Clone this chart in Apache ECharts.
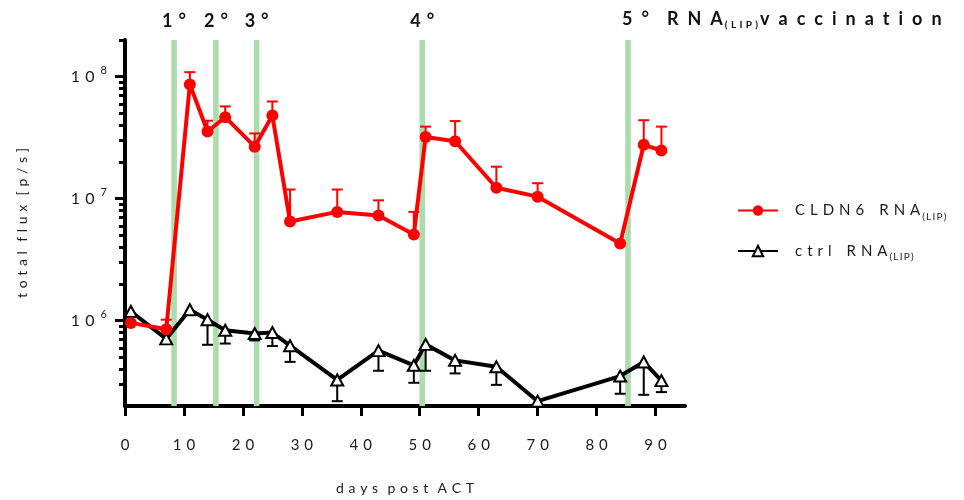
<!DOCTYPE html>
<html>
<head>
<meta charset="utf-8">
<script src="https://cdn.jsdelivr.net/npm/echarts@6/dist/echarts.min.js"></script>
<style>
  html, body { margin: 0; padding: 0; background: #fff; }
  #chart { width: 964px; height: 500px; }
</style>
</head>
<body>
<div id="chart"></div>
<script>
// days post ACT
const days = [1, 7, 11, 14, 17, 22, 25, 28, 36, 43, 49, 51, 56, 63, 70, 84, 88, 91];

// CLDN6 RNA(LIP): mean and upper end of error bar
const cldn6Mean = [9.6e5, 8.5e5, 8.65e7, 3.56e7, 4.66e7, 2.67e7, 4.81e7, 6.5e6, 7.8e6, 7.3e6, 5.1e6, 3.2e7, 2.96e7, 1.23e7, 1.04e7, 4.3e6, 2.77e7, 2.48e7];
const cldn6Upper = [null, 1.02e6, 1.09e8, 4.36e7, 5.71e7, 3.43e7, 6.27e7, 1.19e7, 1.19e7, 9.7e6, 7.8e6, 3.9e7, 4.33e7, 1.83e7, 1.34e7, null, 4.4e7, 3.9e7];

// ctrl RNA(LIP): mean and lower end of error bar
const ctrlMean = [1.19e6, 7.1e5, 1.23e6, 1.02e6, 8.35e5, 7.85e5, 8.0e5, 6.24e5, 3.27e5, 5.69e5, 4.31e5, 6.4e5, 4.73e5, 4.19e5, 2.19e5, 3.52e5, 4.59e5, 3.23e5];
const ctrlLower = [null, null, null, 6.35e5, 6.5e5, 6.9e5, 6.2e5, 4.6e5, 2.19e5, 3.89e5, 3.1e5, 3.89e5, 3.7e5, 2.98e5, null, 2.52e5, 2.47e5, 2.6e5];

// vaccination days (green bands)
const bandStart = [7.85, 14.95, 21.85, 49.95, 84.85];
const bandEnd = [8.8, 15.9, 22.8, 50.9, 85.8];
const bandLabels = ['1°', '2°', '3°', '4°', '5°'];

// axis ticks
const xTicks = [0, 10, 20, 30, 40, 50, 60, 70, 80, 90];
const yMajorTicks = [1e6, 1e7, 1e8];
const yMinorTicks = [3e5, 4e5, 5e5, 6e5, 7e5, 8e5, 9e5,
  2e6, 3e6, 4e6, 5e6, 6e6, 7e6, 8e6, 9e6,
  2e7, 3e7, 4e7, 5e7, 6e7, 7e7, 8e7, 9e7, 2e8];

const FONT = 'Lato';
const TEXT = '#1a1a1a';
const GAP = '\u2004';
const WIDE = '\u2002';
const THIN = '\u2009';

// 字母间距
const spaced = (s, g = GAP) => s.split('').join(g);

const chart = echarts.init(document.getElementById('chart'));

// 误差线
const errorBars = (name, means, bounds, color) => ({
  type: 'custom',
  name: name,
  z: 1,
  silent: true,
  encode: { x: 0, y: [1, 2] },
  data: days.map((d, i) => [d, means[i], bounds[i]]).filter(r => r[2] != null),
  renderItem: (params, api) => {
    const p0 = api.coord([api.value(0), api.value(1)]);
    const p1 = api.coord([api.value(0), api.value(2)]);
    const half = 5.5;
    return {
      type: 'group',
      children: [
        { type: 'line', shape: { x1: p0[0], y1: p0[1], x2: p1[0], y2: p1[1] }, style: { stroke: color, lineWidth: 2 } },
        { type: 'line', shape: { x1: p1[0] - half, y1: p1[1], x2: p1[0] + half, y2: p1[1] }, style: { stroke: color, lineWidth: 2 } }
      ]
    };
  }
});

const bandLabel = i => i === 4
  ? '{t|' + spaced(bandLabels[i], WIDE) + WIDE + WIDE + spaced('RNA', WIDE) + '}{s|' + spaced('(LIP)') + '}{t|' + spaced('vaccination', WIDE) + '}'
  : '{t|' + spaced(bandLabels[i]) + '}';

const option = {
  animation: false,
  backgroundColor: '#fff',
  textStyle: { fontFamily: FONT },
  grid: { left: 125, top: 40, width: 560, height: 373 },
  legend: {
    orient: 'vertical',
    left: 732,
    top: 198,
    itemWidth: 40,
    itemHeight: 13,
    itemGap: 22,
    data: ['CLDN6', 'ctrl'],
    formatter: name => '{g|}{m|' + spaced(name) + WIDE + WIDE + spaced('RNA') + THIN + '}{s|' + spaced('(LIP)', THIN) + '}',
    textStyle: {
      fontFamily: FONT,
      color: TEXT,
      rich: {
        g: { width: 12 },
        m: { fontSize: 15, fontFamily: FONT, color: TEXT },
        s: { fontSize: 10, fontFamily: FONT, color: TEXT, padding: [12, 0, 0, 0] }
      }
    }
  },
  xAxis: {
    type: 'value',
    min: 0,
    max: 95,
    name: spaced('days') + GAP + GAP + spaced('post') + GAP + GAP + spaced('ACT'),
    nameLocation: 'middle',
    nameGap: 75,
    nameTextStyle: { fontSize: 14, color: TEXT, fontFamily: FONT },
    axisLine: { lineStyle: { color: '#000', width: 4 } },
    axisTick: { customValues: xTicks, length: 10, lineStyle: { color: '#000', width: 3 } },
    axisLabel: {
      customValues: xTicks,
      margin: 32,
      fontSize: 15,
      color: TEXT,
      fontFamily: FONT,
      formatter: v => spaced(String(v))
    },
    splitLine: { show: false }
  },
  yAxis: [
    {
      type: 'log',
      min: 2e5,
      max: 2e8,
      name: spaced('total') + GAP + GAP + spaced('flux') + GAP + GAP + spaced('[p/s]'),
      nameLocation: 'middle',
      nameGap: 96,
      nameTextStyle: { fontSize: 14, color: TEXT, fontFamily: FONT },
      axisLine: { show: true, lineStyle: { color: '#000', width: 4 } },
      axisTick: { customValues: yMajorTicks, length: 10, lineStyle: { color: '#000', width: 3 } },
      axisLabel: {
        customValues: yMajorTicks,
        margin: 18,
        color: TEXT,
        formatter: v => '{n|' + spaced('10') + '}{s|' + Math.round(Math.log10(v)) + '}',
        rich: {
          n: { fontSize: 16, fontFamily: FONT, color: TEXT },
          s: { fontSize: 11, fontFamily: FONT, color: TEXT, padding: [0, 0, 12, 6] }
        }
      },
      splitLine: { show: false }
    },
    {
      type: 'log',
      min: 2e5,
      max: 2e8,
      position: 'left',
      axisLine: { show: false },
      axisTick: { customValues: yMinorTicks, length: 6, lineStyle: { color: '#000', width: 3 } },
      axisLabel: { show: false },
      splitLine: { show: false }
    }
  ],
  series: [
    {
      // vaccination bands
      name: 'bands',
      type: 'line',
      z: 0,
      data: [],
      markArea: {
        silent: true,
        itemStyle: { color: '#abdcab' },
        label: {
          show: true,
          position: 'top',
          distance: 10,
          rich: {
            t: { fontSize: 18, fontWeight: 'bold', fontFamily: FONT, color: '#111' },
            s: { fontSize: 10, fontWeight: 'bold', fontFamily: FONT, color: '#111', padding: [12, 2, 0, 2] }
          }
        },
        data: bandStart.map((s, i) => [
          {
            xAxis: s,
            label: i === 4
              ? { formatter: bandLabel(i), align: 'left', offset: [-6, 0] }
              : { formatter: bandLabel(i) }
          },
          { xAxis: bandEnd[i] }
        ])
      }
    },
    errorBars('ctrl-sd', ctrlMean, ctrlLower, '#000'),
    errorBars('CLDN6-sd', cldn6Mean, cldn6Upper, '#ff0000'),
    {
      name: 'ctrl',
      type: 'line',
      z: 3,
      data: days.map((d, i) => [d, ctrlMean[i]]),
      symbol: 'triangle',
      symbolSize: [12, 11],
      lineStyle: { color: '#000', width: 4 },
      itemStyle: { color: '#fff', borderColor: '#000', borderWidth: 2 }
    },
    {
      name: 'CLDN6',
      type: 'line',
      z: 4,
      data: days.map((d, i) => [d, cldn6Mean[i]]),
      symbol: 'circle',
      symbolSize: 12,
      lineStyle: { color: '#ff0000', width: 4 },
      itemStyle: { color: '#ff0000' }
    }
  ]
};

chart.setOption(option);
window.addEventListener('resize', () => chart.resize());
</script>
</body>
</html>
